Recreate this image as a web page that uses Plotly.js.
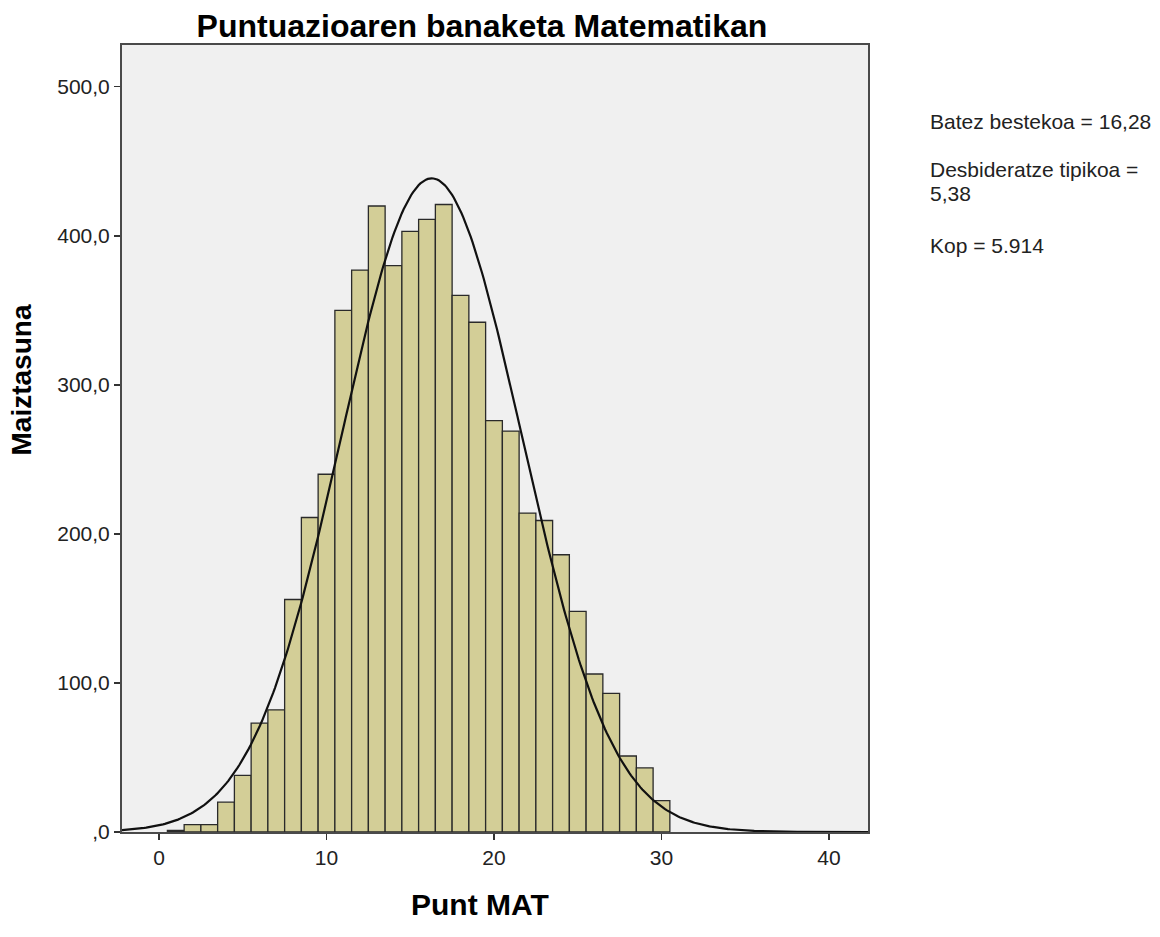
<!DOCTYPE html>
<html>
<head>
<meta charset="utf-8">
<script src="https://cdn.plot.ly/plotly-3.0.1.min.js"></script>
<style>html,body{margin:0;padding:0;background:#fff;}#chart{width:1160px;height:937px;}</style>
</head>
<body>
<div id="chart"></div>
<script>
// Histogram bins (centre of each 1-point bin) and frequencies
const binCenters = [1,2,3,4,5,6,7,8,9,10,11,12,13,14,15,16,17,18,19,20,21,22,23,24,25,26,27,28,29,30];
const frequencies = [1,5,5,20,38,73,82,156,211,240,350,377,420,380,403,411,421,360,342,276,269,214,209,186,148,106,93,51,43,21];

// Stated summary statistics (shown in the chart's legend text)
const meanValue = 16.28;
const sdValue = 5.38;
const countValue = 5914;
const binWidth = 1;

const statLines = ['Batez bestekoa = 16,28', 'Desbideratze tipikoa =', '5,38', 'Kop = 5.914'];

const yTickVals = [0,100,200,300,400,500];
const yTickText = [",0","100,0","200,0","300,0","400,0","500,0"];
const xTickVals = [0,10,20,30,40];
const xTickText = ["0","10","20","30","40"];

const xRange = [-2.21, 42.33];
const yRange = [0, 528];

// Fitted normal curve from the stated mean, sd and count
const curveX = [];
const curveY = [];
for (let i = 0; i <= 400; i++) {
  const x = xRange[0] + (xRange[1] - xRange[0]) * i / 400;
  const z = (x - meanValue) / sdValue;
  curveX.push(x);
  curveY.push(countValue * binWidth / (sdValue * Math.sqrt(2 * Math.PI)) * Math.exp(-0.5 * z * z));
}

const traces = [
  {
    type: 'bar',
    x: binCenters,
    y: frequencies,
    width: binWidth,
    marker: {color: '#D3CE97', line: {color: '#2a2a2a', width: 1.3}},
    hoverinfo: 'x+y'
  },
  {
    type: 'scatter',
    mode: 'lines',
    x: curveX,
    y: curveY,
    line: {color: '#111111', width: 2.2},
    hoverinfo: 'skip'
  }
];

const statY = [0.9022, 0.8412, 0.8107, 0.7446];
const annotations = statLines.map((t, i) => ({
  xref: 'paper', yref: 'paper', x: 1.081, y: statY[i], xanchor: 'left', yanchor: 'middle',
  showarrow: false, align: 'left', text: t, font: {size: 21, color: '#222'}
}));
annotations.push({
  xref: 'paper', yref: 'paper', x: -0.1354, y: 0.575, xanchor: 'center', yanchor: 'middle',
  showarrow: false, textangle: -90, text: '<b>Maiztasuna</b>', font: {size: 28, color: '#000'}
});
annotations.push({
  xref: 'paper', yref: 'paper', x: 0.48, y: -0.0915, xanchor: 'center', yanchor: 'middle',
  showarrow: false, text: '<b>Punt MAT</b>', font: {size: 30, color: '#000'}
});

const layout = {
  width: 1160,
  height: 937,
  margin: {l: 122, r: 292, t: 45, b: 105},
  paper_bgcolor: '#ffffff',
  plot_bgcolor: '#F0F0F0',
  showlegend: false,
  bargap: 0,
  font: {family: 'Arial, "Liberation Sans", sans-serif', color: '#222'},
  title: {
    text: '<b>Puntuazioaren banaketa Matematikan</b>',
    font: {size: 32, color: '#000'},
    x: 0.4155, xanchor: 'center',
    y: 0.972, yanchor: 'middle'
  },
  xaxis: {
    range: xRange,
    tickvals: xTickVals,
    ticktext: xTickText,
    ticks: 'outside',
    ticklen: 6,
    tickcolor: '#333',
    tickwidth: 1.5,
    tickfont: {size: 21, color: '#222'},
    showgrid: false,
    zeroline: false,
    showline: true,
    linecolor: '#4a4a4a',
    linewidth: 2,
    mirror: true
  },
  yaxis: {
    range: yRange,
    tickvals: yTickVals,
    ticktext: yTickText,
    ticks: 'outside',
    ticklen: 6,
    tickcolor: '#333',
    tickwidth: 1.5,
    tickfont: {size: 21, color: '#222'},
    showgrid: false,
    zeroline: false,
    showline: true,
    linecolor: '#4a4a4a',
    linewidth: 2,
    mirror: true
  },
  annotations: annotations
};

Plotly.newPlot('chart', traces, layout, {displayModeBar: false, staticPlot: true});
</script>
</body>
</html>
